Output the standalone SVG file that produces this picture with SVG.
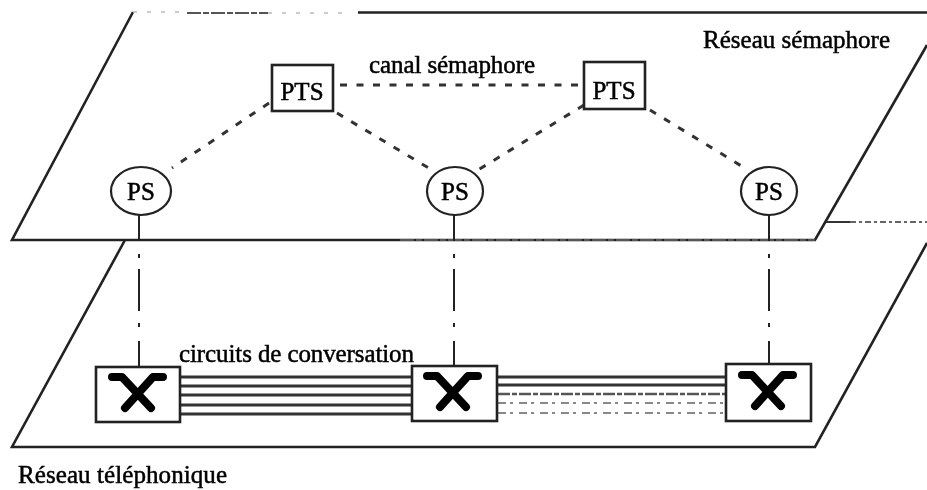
<svg xmlns="http://www.w3.org/2000/svg" width="927" height="490" viewBox="0 0 927 490">
<defs>
<filter id="soft" x="-5%" y="-5%" width="110%" height="110%"><feGaussianBlur stdDeviation="0.7"/></filter>
<g id="cross"><path d="M-26,-15 H-16 L13,16M25,-15 H15 L-13,16" fill="none" stroke="#000" stroke-width="8" stroke-linecap="round" stroke-linejoin="round"/></g>
</defs>
<style>
.pl{fill:none;stroke:#222;stroke-width:2.6}
.pf{fill:none;stroke:#555;stroke-width:2.2;stroke-dasharray:14 2 6 2}
.pg{fill:none;stroke:#bbb;stroke-width:1.5;stroke-dasharray:4 10}
.dash{fill:none;stroke:#333;stroke-width:3;stroke-dasharray:7 9.5}
.dd{fill:none;stroke:#222;stroke-width:2;stroke-dasharray:26 13 4 11 42 12 4 14 30}
.cir{fill:none;stroke:#333;stroke-width:2.8}
.cird{fill:none;stroke:#555;stroke-width:2.4;stroke-dasharray:12 2 5 2}
.cirf{fill:none;stroke:#888;stroke-width:2.2;stroke-dasharray:8 4 3 6}
.box{fill:#fff;stroke:#222;stroke-width:2.6}
.ell{fill:#fff;stroke:#222;stroke-width:2.2}
text{font-family:"Liberation Serif",serif;fill:#000;stroke:#000;stroke-width:0.5}
.lb{font-size:25px}
.nd{font-size:25px;text-anchor:middle}
</style>
<rect width="927" height="490" fill="#fff"/>
<g filter="url(#soft)">
<g id="planes">
<path class="pl" d="M927,45 L815,240 H400"/>
<path class="pf" d="M400,240 H815"/>
<path class="pl" d="M400,240 H12 L133,12"/>
<path class="pg" d="M133,12 H187"/>
<path class="pf" d="M187,13 H268"/>
<path class="pg" d="M268,13 H350"/>
<path class="pl" d="M358,12.500 H927"/>
<path class="pl" d="M125,240 L12,447 H815 L927,243"/>
<path d="M826,222 H850" fill="none" stroke="#333" stroke-width="2"/>
<path d="M850,222 H927" fill="none" stroke="#666" stroke-width="1.800" stroke-dasharray="6 3 3 3"/>
</g>
<g id="connectors">
<path class="dash" d="M340,85 L584,85"/>
<path class="dash" d="M269,103 L172,168"/>
<path class="dash" d="M337,113 L432,170"/>
<path class="dash" d="M584,105 L478,170"/>
<path class="dash" d="M650,110 L748,170"/>
<path class="dd" d="M139,215 V367"/>
<path class="dd" d="M454,215 V366"/>
<path class="dd" d="M769,215 V364"/>
<path class="cir" d="M181,377 H412M181,386 H412M181,395 H412M181,405 H412M181,414 H412"/>
<path class="cir" d="M498,377 H726M498,385 H726"/>
<path class="cird" d="M498,394 H726"/>
<path class="cirf" d="M498,403 H726M498,413 H726"/>
</g>
<g id="pts1"><rect class="box" x="272" y="65" width="61" height="46"/><text class="nd" x="302" y="100">PTS</text></g>
<g id="pts2"><rect class="box" x="584" y="62" width="61" height="47"/><text class="nd" x="614" y="99">PTS</text></g>
<g id="ps1"><ellipse class="ell" cx="141" cy="191" rx="30" ry="24"/><text class="nd" x="141" y="200">PS</text></g>
<g id="ps2"><ellipse class="ell" cx="455" cy="191" rx="28" ry="24"/><text class="nd" x="455" y="200">PS</text></g>
<g id="ps3"><ellipse class="ell" cx="769" cy="191" rx="28" ry="24"/><text class="nd" x="769" y="200">PS</text></g>
<g id="sw1"><rect class="box" x="96" y="367" width="84" height="55"/><use href="#cross" x="138" y="392"/></g>
<g id="sw2"><rect class="box" x="412" y="366" width="85" height="55"/><use href="#cross" x="453" y="391"/></g>
<g id="sw3"><rect class="box" x="726" y="364" width="85" height="57"/><use href="#cross" x="768" y="390"/></g>
<g id="labels">
<text class="lb" x="703" y="48" textLength="187">Réseau sémaphore</text>
<text class="lb" x="369" y="73" textLength="166">canal sémaphore</text>
<text class="lb" x="179" y="362" textLength="235">circuits de conversation</text>
<text class="lb" x="18" y="483" textLength="209">Réseau téléphonique</text>
</g>
</g>
</svg>
